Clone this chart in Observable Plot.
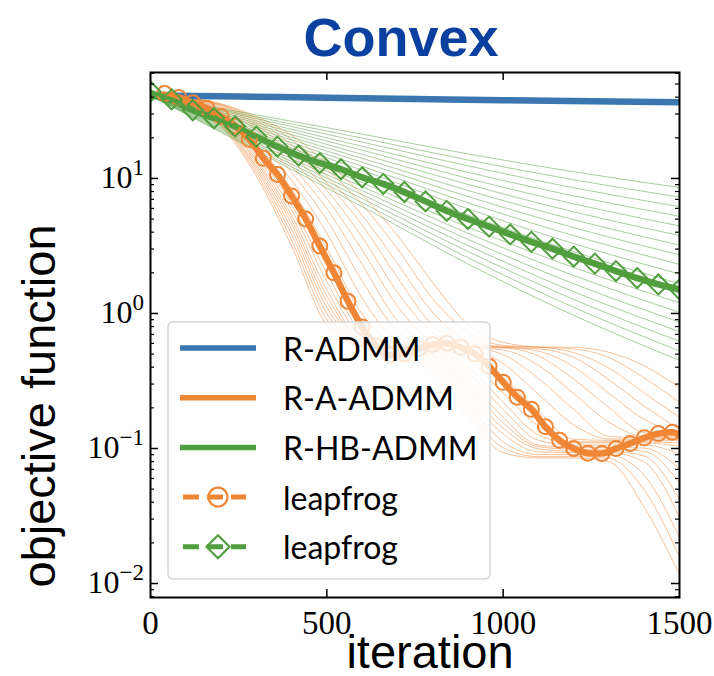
<!DOCTYPE html>
<html>
<head>
<meta charset="utf-8">
<script src="https://cdn.jsdelivr.net/npm/d3@7"></script>
<script src="https://cdn.jsdelivr.net/npm/@observablehq/plot@0.6"></script>
<style>
html,body{margin:0;padding:0;background:#fff;}
svg{display:block;}
</style>
</head>
<body>
<div id="chart"></div>
<script>
// ---------------- data ----------------
const titleText = "Convex";
const xLabel = "iteration";
const yLabel = "objective function";
const legendLabels = ["R-ADMM", "R-A-ADMM", "R-HB-ADMM", "leapfrog", "leapfrog"];

const xTicks = [0, 500, 1000, 1500];
const yMajorTicks = [0.01, 0.1, 1, 10];
const yMajorExponents = ["\u22122", "\u22121", "0", "1"];
const yMinorTicks = [0.008, 0.009, 0.02, 0.03, 0.04, 0.05, 0.06, 0.07, 0.08, 0.09,
  0.2, 0.3, 0.4, 0.5, 0.6, 0.7, 0.8, 0.9, 2, 3, 4, 5, 6, 7, 8, 9, 20, 30, 40, 50, 60];

// R-ADMM
const radmmIter = [0, 250, 500, 750, 1000, 1250, 1500];
const radmm = [41.2, 40.4, 39.6, 38.8, 38.0, 37.3, 36.6];

// R-A-ADMM
const raadmmIter = [0, 40, 80, 120, 160, 200, 240, 280, 320, 360, 400, 440, 480, 520, 560, 600,
  640, 680, 720, 760, 800, 840, 880, 920, 960, 1000, 1040, 1080, 1120, 1160, 1200, 1240,
  1280, 1320, 1360, 1400, 1440, 1480, 1500];
const raadmm = [41.2, 41.7, 39.8, 36.3, 33.1, 28.8, 24.5, 19.5, 14.1, 10.7, 7.41, 5.01, 3.16, 2.00,
  1.23, 0.794, 0.575, 0.490, 0.501, 0.550, 0.589, 0.603, 0.562, 0.501, 0.407, 0.309, 0.240, 0.195,
  0.145, 0.115, 0.100, 0.0923, 0.0918, 0.100, 0.109, 0.120, 0.129, 0.132, 0.126];

// R-HB-ADMM
const rhbIter = [0, 60, 120, 180, 240, 300, 360, 420, 480, 540, 600, 660, 720, 780, 840, 900,
  960, 1020, 1080, 1140, 1200, 1260, 1320, 1380, 1440, 1500];
const rhbadmm = [41.2, 38.0, 32.0, 27.9, 24.3, 20.4, 17.2, 14.8, 13.0, 11.7, 10.2, 9.12, 7.94, 6.76,
  5.75, 5.01, 4.40, 3.85, 3.39, 3.02, 2.64, 2.34, 2.06, 1.83, 1.64, 1.51];

// leapfrog (orange, circles)
const leapOIter = [40, 80, 120, 160, 200, 240, 280, 320, 360, 400, 440, 480, 520, 560, 600, 640,
  680, 720, 760, 800, 840, 880, 920, 960, 1000, 1040, 1080, 1120, 1160, 1200, 1240, 1280, 1320,
  1360, 1400, 1440, 1480];
const leapO = [42.5, 39.8, 36.3, 33.1, 28.8, 24.5, 19.5, 14.1, 10.7, 7.41, 5.01, 3.16, 2.00, 1.23,
  0.794, 0.575, 0.490, 0.501, 0.550, 0.589, 0.603, 0.562, 0.501, 0.407, 0.309, 0.240, 0.195, 0.145,
  0.115, 0.100, 0.0923, 0.0918, 0.100, 0.109, 0.120, 0.129, 0.132];

// leapfrog (green, diamonds)
const leapGIter = [0, 60, 120, 180, 240, 300, 360, 420, 480, 540, 600, 660, 720, 780, 840, 900,
  960, 1020, 1080, 1140, 1200, 1260, 1320, 1380, 1440, 1500];
const leapG = [44.0, 38.5, 32.0, 27.9, 24.3, 20.4, 17.2, 14.8, 13.0, 11.7, 10.2, 9.12, 7.94, 6.76,
  5.75, 5.01, 4.40, 3.85, 3.39, 3.02, 2.64, 2.34, 2.06, 1.83, 1.64, 1.51];

// thin orange family
const orangeThinIter = [0, 100, 200, 300, 400, 500, 600, 700, 800, 900, 1000, 1100, 1200, 1300, 1400, 1500];
const orangeThin = [
  [41, 36.6, 24.3, 10.4, 3.16, 0.820, 0.569, 0.541, 0.350, 0.173, 0.093, 0.0851, 0.0851, 0.0798, 0.0366, 0.0117],
  [41, 36.8, 24.8, 11.0, 3.49, 0.906, 0.573, 0.548, 0.386, 0.192, 0.101, 0.0871, 0.0871, 0.0845, 0.0493, 0.0158],
  [41, 36.9, 25.2, 11.6, 3.85, 1.00, 0.578, 0.555, 0.417, 0.213, 0.112, 0.0902, 0.0902, 0.0893, 0.0632, 0.0219],
  [41, 37.1, 25.6, 12.1, 4.22, 1.11, 0.590, 0.562, 0.448, 0.238, 0.128, 0.0944, 0.0933, 0.0933, 0.0794, 0.0309],
  [41, 37.2, 26.1, 12.6, 4.60, 1.22, 0.604, 0.562, 0.480, 0.264, 0.141, 0.0995, 0.0955, 0.0955, 0.0879, 0.0417],
  [41, 37.3, 26.4, 13.2, 4.95, 1.35, 0.617, 0.562, 0.497, 0.291, 0.155, 0.103, 0.0989, 0.0989, 0.0953, 0.0556],
  [41, 37.4, 26.9, 13.7, 5.33, 1.50, 0.628, 0.562, 0.513, 0.321, 0.170, 0.106, 0.102, 0.102, 0.1007, 0.0708],
  [41, 37.6, 27.4, 14.4, 5.86, 1.73, 0.673, 0.564, 0.536, 0.364, 0.194, 0.115, 0.106, 0.106, 0.106, 0.0912],
  [41, 37.8, 27.9, 15.1, 6.41, 1.99, 0.724, 0.568, 0.546, 0.403, 0.220, 0.126, 0.110, 0.110, 0.110, 0.104],
  [41, 37.9, 28.5, 16.0, 7.13, 2.34, 0.791, 0.573, 0.556, 0.450, 0.257, 0.146, 0.112, 0.112, 0.112, 0.110],
  [41, 38.2, 29.4, 17.6, 8.36, 3.04, 0.993, 0.597, 0.562, 0.508, 0.336, 0.189, 0.117, 0.115, 0.115, 0.115],
  [41, 38.4, 30.5, 19.4, 9.70, 3.94, 1.30, 0.638, 0.565, 0.546, 0.425, 0.252, 0.150, 0.1175, 0.1175, 0.1175],
  [41, 38.6, 31.4, 21.1, 11.1, 4.93, 1.75, 0.746, 0.574, 0.562, 0.495, 0.330, 0.195, 0.123, 0.120, 0.120],
  [41, 38.8, 32.3, 22.8, 12.4, 5.97, 2.31, 0.891, 0.600, 0.562, 0.538, 0.413, 0.255, 0.157, 0.123, 0.123],
  [41, 39.0, 33.1, 24.0, 13.8, 7.10, 2.96, 1.14, 0.631, 0.568, 0.556, 0.485, 0.326, 0.201, 0.131, 0.126],
  [41, 39.2, 33.9, 25.0, 15.1, 8.20, 3.68, 1.44, 0.724, 0.575, 0.562, 0.526, 0.403, 0.256, 0.164, 0.129],
  [41, 39.4, 34.6, 25.9, 16.5, 9.27, 4.52, 1.85, 0.824, 0.601, 0.562, 0.548, 0.473, 0.323, 0.206, 0.138],
  [41, 39.4, 35.0, 26.9, 17.8, 10.4, 5.33, 2.35, 1.02, 0.631, 0.569, 0.562, 0.513, 0.394, 0.258, 0.170],
  [41, 39.6, 35.4, 27.9, 19.4, 11.7, 6.41, 3.02, 1.29, 0.724, 0.581, 0.562, 0.546, 0.472, 0.333, 0.220],
  [41, 39.8, 35.7, 28.8, 20.9, 13.0, 7.59, 3.78, 1.70, 0.832, 0.612, 0.566, 0.562, 0.516, 0.410, 0.282]
];

// thin green family
const greenThinIter = [0, 300, 600, 900, 1200, 1500];
const greenThin = [
  [41, 29.6, 21.3, 15.2, 11.2, 8.57],
  [41, 28.6, 19.9, 13.7, 9.77, 7.28],
  [41, 27.7, 18.6, 12.4, 8.53, 6.18],
  [41, 26.7, 17.3, 11.1, 7.43, 5.24],
  [41, 25.8, 16.2, 10.0, 6.49, 4.45],
  [41, 24.9, 15.1, 9.04, 5.66, 3.78],
  [41, 24.1, 14.1, 8.15, 4.95, 3.21],
  [41, 23.3, 13.2, 7.35, 4.32, 2.72],
  [41, 22.5, 12.3, 6.61, 3.77, 2.31],
  [41, 21.7, 11.5, 5.96, 3.29, 1.96],
  [41, 21.0, 10.7, 5.37, 2.87, 1.66],
  [41, 20.3, 10.0, 4.84, 2.51, 1.41],
  [41, 19.6, 9.33, 4.36, 2.19, 1.20],
  [41, 18.9, 8.71, 3.93, 1.91, 1.02],
  [41, 18.3, 8.13, 3.54, 1.66, 0.863],
  [41, 17.7, 7.59, 3.19, 1.45, 0.733],
  [41, 17.1, 7.08, 2.88, 1.27, 0.622],
  [41, 16.5, 6.61, 2.59, 1.11, 0.528],
  [41, 16.0, 6.18, 2.33, 0.968, 0.449]
];

// ---------------- style ----------------
const C_BLUE = "#3a76af", C_ORANGE = "#ef8636", C_GREEN = "#519e3e", C_TITLE = "#0a41a0";
const SANS = "Liberation Sans, Arial, Helvetica, sans-serif";
const SERIF = "Liberation Serif, Times New Roman, serif";
const LEGEND_FONT = "Lato, Liberation Sans, sans-serif";
const W = 714, H = 676, ML = 150, MR = 35, MT = 72, MB = 79;
const FW = W - ML - MR, FH = H - MT - MB;

// ---------------- tables built from the arrays ----------------
const rows = (iters, vals, key) => iters.map((t, i) => ({iter: t, value: vals[i], key}));
const orangeThinRows = orangeThin.flatMap((vals, k) => rows(orangeThinIter, vals, "o" + k));
const greenThinRows = greenThin.flatMap((vals, k) => rows(greenThinIter, vals, "g" + k));
const blueRows = rows(radmmIter, radmm, "b");
const orangeRows = rows(raadmmIter, raadmm, "o");
const greenRows = rows(rhbIter, rhbadmm, "g");
const leapORows = rows(leapOIter, leapO, "lo");
const leapGRows = rows(leapGIter, leapG, "lg");
const yTickRows = yMajorTicks.map((v, i) => ({value: v, exp: yMajorExponents[i]}));

const plot = Plot.plot({
  width: W, height: H,
  marginLeft: ML, marginRight: MR, marginTop: MT, marginBottom: MB,
  style: {background: "white", overflow: "visible"},
  x: {domain: [0, 1500], axis: null},
  y: {type: "log", domain: [0.00788, 60.9], axis: null},
  marks: [
    Plot.line(orangeThinRows, {x: "iter", y: "value", z: "key", stroke: C_ORANGE, strokeWidth: 1, strokeOpacity: 0.5, curve: "monotone-x", clip: true}),
    Plot.line(greenThinRows, {x: "iter", y: "value", z: "key", stroke: C_GREEN, strokeWidth: 1, strokeOpacity: 0.5, curve: "monotone-x", clip: true}),
    Plot.line(blueRows, {x: "iter", y: "value", stroke: C_BLUE, strokeWidth: 6.5, curve: "monotone-x", clip: true}),
    Plot.line(orangeRows, {x: "iter", y: "value", stroke: C_ORANGE, strokeWidth: 6.5, curve: "monotone-x", clip: true}),
    Plot.line(greenRows, {x: "iter", y: "value", stroke: C_GREEN, strokeWidth: 6.5, curve: "monotone-x", clip: true}),
    Plot.line(leapORows, {x: "iter", y: "value", stroke: C_ORANGE, strokeWidth: 4, strokeDasharray: "14,6", curve: "monotone-x", clip: true}),
    Plot.dot(leapORows, {x: "iter", y: "value", r: 7.5, stroke: C_ORANGE, strokeWidth: 2, fill: "none", clip: true}),
    Plot.line(leapGRows, {x: "iter", y: "value", stroke: C_GREEN, strokeWidth: 4, strokeDasharray: "14,6", curve: "monotone-x", clip: true}),
    Plot.dot(leapGRows, {x: "iter", y: "value", symbol: "diamond2", r: 9, stroke: C_GREEN, strokeWidth: 2, fill: "none", clip: true}),
    // inward ticks on all four sides
    Plot.tickX(xTicks.slice(1, -1), {x: d => d, insetTop: FH - 8, stroke: "black", strokeWidth: 1.5}),
    Plot.tickX(xTicks.slice(1, -1), {x: d => d, insetBottom: FH - 8, stroke: "black", strokeWidth: 1.5}),
    Plot.tickY(yMajorTicks, {y: d => d, insetRight: FW - 8, stroke: "black", strokeWidth: 1.5}),
    Plot.tickY(yMajorTicks, {y: d => d, insetLeft: FW - 8, stroke: "black", strokeWidth: 1.5}),
    Plot.tickY(yMinorTicks, {y: d => d, insetRight: FW - 4, stroke: "black", strokeWidth: 1.2}),
    Plot.tickY(yMinorTicks, {y: d => d, insetLeft: FW - 4, stroke: "black", strokeWidth: 1.2}),
    Plot.frame({stroke: "black", strokeWidth: 2}),
    // x tick labels
    Plot.text(xTicks, {x: d => d, frameAnchor: "bottom", dy: 36, lineAnchor: "bottom", text: d => String(d), fontSize: 33, fontFamily: SERIF, fill: "black"}),
    // title and x label
    Plot.text([titleText], {frameAnchor: "top", dx: -14, dy: -17, lineAnchor: "bottom", text: d => d, fontSize: 54, fontWeight: "bold", fontFamily: SANS, fill: C_TITLE}),
    Plot.text([xLabel], {frameAnchor: "bottom", dx: 15, dy: 70, lineAnchor: "bottom", text: d => d, fontSize: 47, fontFamily: SANS, fill: "black"})
  ]
});

document.getElementById("chart").appendChild(plot);
const svg = d3.select(plot);
const yScale = plot.scale("y");

// y tick labels with superscript exponents, placed through the y scale
const yl = svg.append("g").attr("class", "ytick-labels")
  .attr("font-family", SERIF).attr("fill", "black").attr("text-anchor", "end");
yTickRows.forEach(d => {
  const t = yl.append("text").attr("x", ML - 6).attr("y", yScale.apply(d.value) + 10).attr("font-size", 32);
  t.append("tspan").text("10");
  t.append("tspan").attr("dy", -13).attr("font-size", 23).text(d.exp);
});

// y axis label
svg.append("text")
  .attr("transform", "translate(38,406) rotate(-90)")
  .attr("text-anchor", "middle").attr("dominant-baseline", "central")
  .attr("font-family", SANS).attr("font-size", 47).attr("fill", "black")
  .text(yLabel);

// legend (drawn over the lines, semi-transparent white box)
const legend = [
  {label: legendLabels[0], color: C_BLUE, kind: "solid"},
  {label: legendLabels[1], color: C_ORANGE, kind: "solid"},
  {label: legendLabels[2], color: C_GREEN, kind: "solid"},
  {label: legendLabels[3], color: C_ORANGE, kind: "circle"},
  {label: legendLabels[4], color: C_GREEN, kind: "diamond"}
];
const lg = svg.append("g").attr("class", "legend");
const LX = 168, LY = 322, LW = 322, LH = 257;
lg.append("rect").attr("x", LX).attr("y", LY).attr("width", LW).attr("height", LH)
  .attr("rx", 5).attr("fill", "white").attr("fill-opacity", 0.8)
  .attr("stroke", "#d6d6d6").attr("stroke-width", 1.5);
legend.forEach((e, i) => {
  const cy = LY + 26 + i * 49.7;
  const hx1 = LX + 12, hx2 = LX + 88, hc = (hx1 + hx2) / 2;
  const g = lg.append("g");
  if (e.kind === "solid") {
    g.append("line").attr("x1", hx1).attr("x2", hx2).attr("y1", cy).attr("y2", cy)
      .attr("stroke", e.color).attr("stroke-width", 5.5);
  } else {
    g.append("line").attr("x1", hx1 + 3).attr("x2", hx2 - 10).attr("y1", cy).attr("y2", cy)
      .attr("stroke", e.color).attr("stroke-width", 5).attr("stroke-dasharray", "16,8");
    if (e.kind === "circle") {
      g.append("circle").attr("cx", hc).attr("cy", cy).attr("r", 9.5)
        .attr("fill", "none").attr("stroke", e.color).attr("stroke-width", 2.2);
    } else {
      const d = 11.5;
      g.append("path").attr("d", `M${hc},${cy - d}L${hc + d},${cy}L${hc},${cy + d}L${hc - d},${cy}Z`)
        .attr("fill", "none").attr("stroke", e.color).attr("stroke-width", 2.2);
    }
  }
  g.append("text").attr("x", LX + 115).attr("y", cy).attr("dominant-baseline", "central")
    .attr("text-anchor", "start")
    .attr("font-family", LEGEND_FONT).attr("font-size", 32).attr("fill", "black").text(e.label);
});
</script>
</body>
</html>
